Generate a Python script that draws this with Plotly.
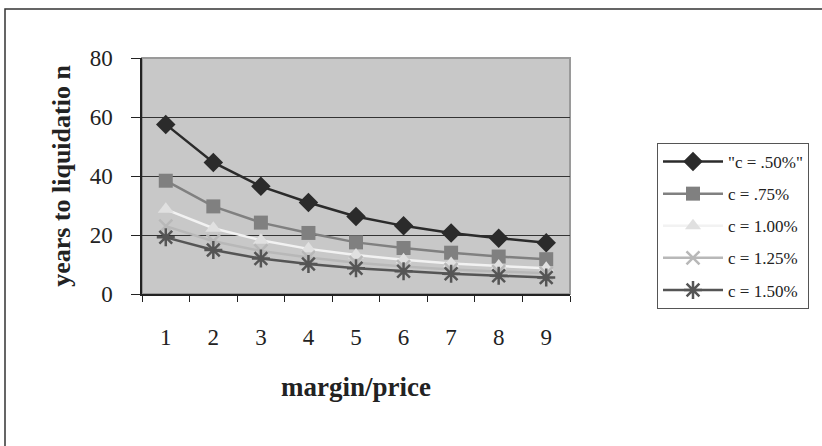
import plotly.graph_objects as go

categories = ["1", "2", "3", "4", "5", "6", "7", "8", "9"]
series_names = ['"c = .50%"', "c = .75%", "c = 1.00%", "c = 1.25%", "c = 1.50%"]
c050 = [57.5, 44.6, 36.5, 31.0, 26.3, 23.1, 20.7, 18.9, 17.4]
c075 = [38.4, 29.7, 24.2, 20.7, 17.5, 15.6, 14.0, 12.7, 11.8]
c100 = [28.7, 22.3, 18.2, 15.3, 13.2, 11.6, 10.3, 9.5, 8.7]
c125 = [23.0, 17.9, 14.6, 12.4, 10.6, 9.3, 8.3, 7.6, 7.0]
c150 = [19.2, 14.9, 12.0, 10.2, 8.7, 7.7, 6.9, 6.2, 5.6]
y_ticks = [0, 20, 40, 60, 80]

values = [c050, c075, c100, c125, c150]
line_colors = ["#2b2b2b", "#808080", "#f2f2f2", "#b8b8b8", "#555555"]
marker_colors = ["#2b2b2b", "#808080", "#e0e0e0", "#b8b8b8", "#555555"]
symbols = ["diamond", "square", "triangle-up", "x-thin-open", "asterisk-open"]
sizes = [15, 14, 14, 13, 15]

fig = go.Figure()
for i, (name, vals, lc, mc, sym, sz) in enumerate(zip(series_names, values, line_colors, marker_colors, symbols, sizes)):
    marker = dict(symbol=sym, size=sz, color=mc)
    if sym.endswith("open"):
        marker["line"] = dict(color=mc, width=2.5)
    else:
        marker["line"] = dict(width=0)
    fig.add_trace(go.Scatter(
        x=categories, y=vals, name=name, mode="lines+markers",
        legendgroup="g%d" % i,
        line=dict(color=lc, width=2.5), marker=marker,
    ))

L, R, T, B = 142, 570, 58, 294
W, H = 822, 446
pw, ph = R - L, B - T

def px(x):
    return (x - L) / pw

def py(y):
    return (B - y) / ph

shapes = [
    # outer chart border (top and left visible)
    dict(type="rect", xref="paper", yref="paper", x0=px(5), x1=px(900),
         y0=py(600), y1=py(9), line=dict(color="#333333", width=1.5), layer="below"),
    # plot area border
    dict(type="rect", xref="paper", yref="paper", x0=0, x1=1, y0=0, y1=1,
         line=dict(color="#9a9a9a", width=2), layer="below"),
]

fig.update_layout(
    width=W, height=H,
    margin=dict(l=L, r=W - R, t=T, b=H - B),
    paper_bgcolor="white",
    plot_bgcolor="#c8c8c8",
    showlegend=True,
    shapes=shapes,
    legend=dict(
        x=px(657), y=py(143), xanchor="left", yanchor="top",
        bgcolor="white", bordercolor="#555555", borderwidth=1,
        font=dict(family="Liberation Serif", size=17, color="#222222"),
        itemwidth=60, tracegroupgap=7,
    ),
    xaxis=dict(
        type="category", range=[-0.5, 8.5],
        showgrid=False, showline=True, linecolor="#222222", linewidth=1.5,
        ticks="outside", ticklen=6, tickcolor="#222222", tickson="boundaries",
        tickfont=dict(family="Liberation Serif", size=23, color="#222222"),
        ticklabelstandoff=22,
        title=dict(text="<b>margin/price</b>", standoff=28,
                   font=dict(family="Liberation Serif", size=27, color="#222222")),
    ),
    yaxis=dict(
        range=[0, 80], tickvals=y_ticks,
        showgrid=True, gridcolor="#333333", gridwidth=1,
        showline=True, linecolor="#222222", linewidth=1.5,
        ticks="outside", ticklen=9, tickcolor="#222222",
        tickfont=dict(family="Liberation Serif", size=23, color="#222222"),
        ticklabelstandoff=14,
        zeroline=False,
        title=dict(text="<b>years to liquidatio n</b>", standoff=12,
                   font=dict(family="Liberation Serif", size=26, color="#222222")),
    ),
)

fig.write_html("out.html",
               config={"displayModeBar": False},
               post_script="document.body.style.margin='0';document.body.style.overflow='hidden';")
